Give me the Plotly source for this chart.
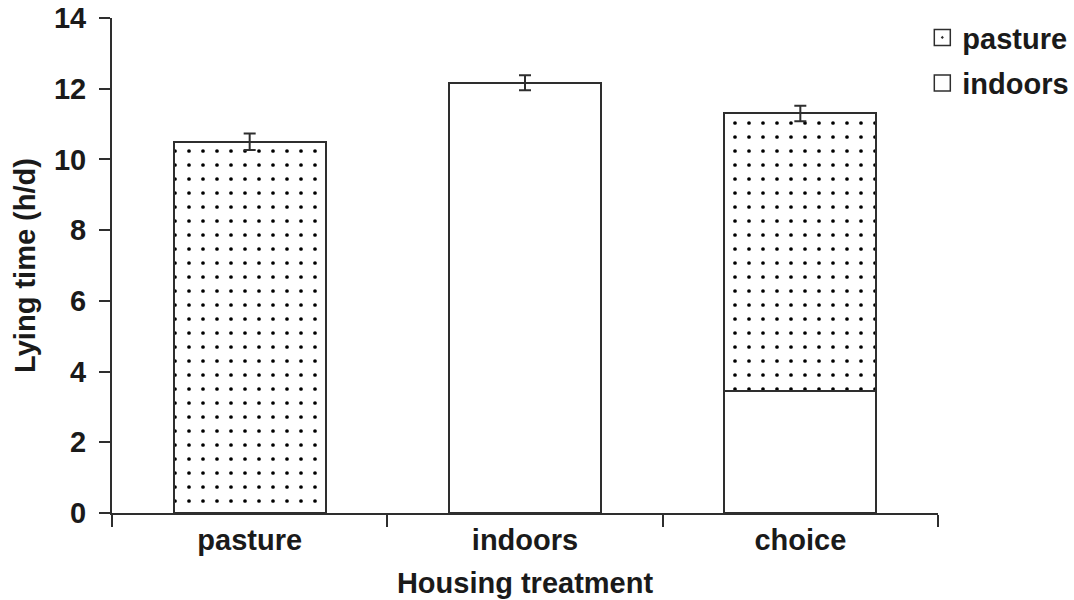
import plotly.graph_objects as go

# Lying time by housing treatment (h/d), split by where the cows were lying
categories = ["pasture", "indoors", "choice"]
indoors_hours = [None, 12.17, 3.45]
pasture_hours = [10.5, None, 7.85]
sem_hours = [0.23, 0.21, 0.22]
y_ticks = [0, 2, 4, 6, 8, 10, 12, 14]

totals = [(a or 0) + (b or 0) for a, b in zip(indoors_hours, pasture_hours)]

INK = "#1a1a1a"
LINE = "#2e2e2e"
FAMILY = "Liberation Sans, Arial, Helvetica, sans-serif"
FONT = dict(family=FAMILY, size=29, color=INK, weight="bold")

fig = go.Figure()

fig.add_trace(go.Bar(
    x=categories, y=indoors_hours, name="indoors", showlegend=False,
    marker=dict(color="white", line=dict(color=LINE, width=2)),
))
fig.add_trace(go.Bar(
    x=categories, y=pasture_hours, name="pasture", showlegend=False,
    marker=dict(color="white", line=dict(color=LINE, width=2),
                pattern=dict(shape=".", fgcolor="#000000", bgcolor="white",
                             fgopacity=1, size=14, solidity=0.055)),
))

# standard error at the top of each bar
fig.add_trace(go.Scatter(
    x=categories, y=totals, mode="markers", showlegend=False,
    marker=dict(size=1, color="rgba(0,0,0,0)"),
    error_y=dict(type="data", array=sem_hours, color=LINE, thickness=2, width=6),
    hoverinfo="skip",
))

# legend keys
fig.add_trace(go.Scatter(
    x=[None], y=[None], mode="markers", name="pasture", legendgroup="p",
    marker=dict(symbol="square-dot", size=16, color="white",
                line=dict(color=LINE, width=1.5)),
))
fig.add_trace(go.Scatter(
    x=[None], y=[None], mode="markers", name="indoors", legendgroup="i",
    marker=dict(symbol="square", size=16, color="white",
                line=dict(color=LINE, width=1.5)),
))

fig.update_layout(
    width=1074, height=600,
    margin=dict(l=112, r=136, t=18, b=87, autoexpand=False),
    paper_bgcolor="white", plot_bgcolor="white",
    font=FONT,
    barmode="stack", bargap=0.448,
    showlegend=True,
    legend=dict(x=0.981, y=1.012, xanchor="left", yanchor="top",
                font=dict(size=29), itemwidth=30, tracegroupgap=5,
                bgcolor="rgba(0,0,0,0)"),
    xaxis=dict(
        title=dict(text="Housing treatment", standoff=18,
                   font=dict(size=29)),
        automargin=False,
        range=[-0.5, 2.5], tickson="boundaries",
        ticks="outside", ticklen=12, tickwidth=2, tickcolor=LINE,
        showline=True, linecolor=LINE, linewidth=2,
        showgrid=False, zeroline=False,
    ),
    yaxis=dict(
        title=dict(text="Lying time (h/d)", standoff=10,
                   font=dict(size=29)),
        automargin=False,
        range=[0, 14], tickvals=y_ticks,
        ticks="outside", ticklen=11, tickwidth=2, tickcolor=LINE,
        ticklabelstandoff=7,
        showline=True, linecolor=LINE, linewidth=2,
        showgrid=False, zeroline=False,
    ),
)

fig.write_html("out.html")
